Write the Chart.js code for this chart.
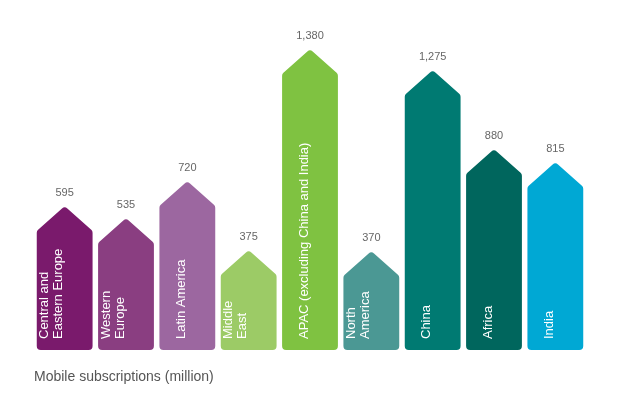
<!DOCTYPE html>
<html>
<head>
<meta charset="utf-8">
<script src="https://cdn.jsdelivr.net/npm/chart.js@4"></script>
<style>
  body { margin: 0; background: #fff; }
  #wrap { position: relative; width: 620px; height: 406px; }
  #axisTitle { position: absolute; left: 34px; top: 368px; font: 14px "Liberation Sans", Arial, sans-serif; color: #555; }
</style>
</head>
<body>
<div id="wrap">
  <canvas id="results" width="620" height="406"></canvas>
  <div id="axisTitle">Mobile subscriptions (million)</div>
</div>
<script>
const regions = [
  ['Central and', 'Eastern Europe'], ['Western', 'Europe'], ['Latin America'],
  ['Middle', 'East'], ['APAC (excluding China and India)'], ['North', 'America'],
  ['China'], ['Africa'], ['India']
];
const subscriptions = [595, 535, 720, 375, 1380, 370, 1275, 880, 815];
const valueLabels = ['595', '535', '720', '375', '1,380', '370', '1,275', '880', '815'];
const barColors = ['#7a1a6c', '#8a3e81', '#9c67a0', '#9ccb66', '#7fc241',
                   '#4b9894', '#007a72', '#00665d', '#00a8d4'];

// draw bars as arrow ("house") shapes and write the labels
const arrowBars = {
  id: 'arrowBars',
  afterDatasetsDraw(chart) {
    const ctx = chart.ctx;
    const meta = chart.getDatasetMeta(0);
    meta.data.forEach((bar, i) => {
      const w = bar.width, l = bar.x - w / 2, r = bar.x + w / 2;
      const top = bar.y, base = bar.base, tip = top - 25, rad = 4;
      ctx.save();
      ctx.fillStyle = barColors[i];
      ctx.beginPath();
      ctx.moveTo(l + rad, base);
      ctx.arcTo(r, base, r, top, rad);
      ctx.arcTo(r, top, bar.x, tip, rad);
      ctx.arcTo(bar.x, tip, l, top, rad);
      ctx.arcTo(l, top, l, base, rad);
      ctx.arcTo(l, base, r, base, rad);
      ctx.closePath();
      ctx.fill();

      // value above the arrow tip
      ctx.fillStyle = '#666';
      ctx.font = '11px "Liberation Sans", Arial, sans-serif';
      ctx.textAlign = 'center';
      ctx.textBaseline = 'bottom';
      ctx.fillText(valueLabels[i], bar.x, tip - 8);

      // rotated category name inside the bar
      ctx.translate(l + 22, base - 11);
      ctx.rotate(-Math.PI / 2);
      ctx.fillStyle = '#fff';
      ctx.font = '13px "Liberation Sans", Arial, sans-serif';
      ctx.textAlign = 'left';
      ctx.textBaseline = 'middle';
      const lines = regions[i];
      lines.forEach((t, k) => {
        const off = (k - (lines.length - 1)) * 14 + (lines.length - 1) * 0 ;
        ctx.fillText(t, 0, off + (lines.length === 1 ? 0 : 0) + k * 0 + (lines.length - 1 - 0) * 0 - 0 + (k === 0 && lines.length === 2 ? 0 : 0) + (lines.length === 2 ? 14 * 0 : 0) + (lines.length === 2 ? 0 : 0) + (lines.length === 2 ? -0 : 0) + (lines.length === 2 ? 0 : 0) + (lines.length === 2 ? 0 : 0) + (lines.length === 2 ? 0 : 0) + (lines.length === 2 ? 0 : 0) + 0);
      });
      ctx.restore();
    });
  }
};

new Chart(document.getElementById('results'), {
  type: 'bar',
  data: {
    labels: regions,
    datasets: [{
      data: subscriptions,
      backgroundColor: 'rgba(0,0,0,0)',
      barPercentage: 0.91,
      categoryPercentage: 1
    }]
  },
  options: {
    responsive: false,
    animation: false,
    layout: { padding: { left: 34, right: 34, top: 5, bottom: 56 } },
    scales: {
      x: { display: false },
      y: { display: false, min: 0, max: 1725 }
    },
    plugins: { legend: { display: false }, tooltip: { enabled: false } }
  },
  plugins: [arrowBars]
});
</script>
</body>
</html>
